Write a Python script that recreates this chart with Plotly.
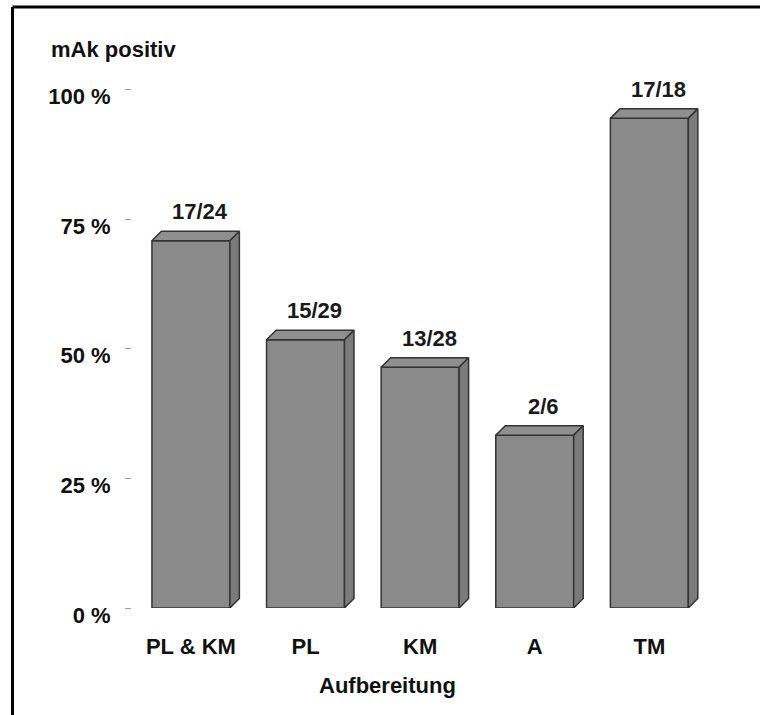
import plotly.graph_objects as go

# Anteil positiver mAk-Befunde je Aufbereitung
categories = ["PL & KM", "PL", "KM", "A", "TM"]
positives = [17, 15, 13, 2, 17]
totals = [24, 29, 28, 6, 18]
percent = [100.0 * p / n for p, n in zip(positives, totals)]
tick_vals_y = [0, 25, 50, 75, 100]
tick_text_y = ["0 %", "25 %", "50 %", "75 %", "100 %"]

# Figure geometry (pixels)
W, H = 760, 715
ML, MR, MT, MB = 132, 20, 74, 107
PW, PH = W - ML - MR, H - MT - MB
Y_MAX = 103.0
X_MIN, X_MAX = -0.514, 4.791

# 3D look: bar width and depth offsets in axis units
BAR_W = 0.68
DX = 9.5 / (PW / (X_MAX - X_MIN))
DY = 9.5 / (PH / Y_MAX)

FRONT = "#8a8a8a"
TOP = "#8f8f8f"
SIDE = "#7b7b7b"
EDGE = "#333333"
FONT = "Liberation Sans, Arial, sans-serif"
FS = 22

fig = go.Figure()

xs = list(range(len(categories)))
fig.add_trace(go.Bar(
    x=xs, y=percent, width=BAR_W,
    marker=dict(color=FRONT, line=dict(color=EDGE, width=1.5)),
    hoverinfo="skip", showlegend=False,
))

# top and side faces of each bar
for i, v in zip(xs, percent):
    xl, xr = i - BAR_W / 2, i + BAR_W / 2
    fig.add_trace(go.Scatter(
        x=[xl, xl + DX, xr + DX, xr, xl],
        y=[v, v + DY, v + DY, v, v],
        fill="toself", fillcolor=TOP, mode="lines",
        line=dict(color=EDGE, width=1.5), hoverinfo="skip", showlegend=False,
    ))
    fig.add_trace(go.Scatter(
        x=[xr, xr + DX, xr + DX, xr, xr],
        y=[0, DY, v + DY, v, 0],
        fill="toself", fillcolor=SIDE, mode="lines",
        line=dict(color=EDGE, width=1.5), hoverinfo="skip", showlegend=False,
    ))
    fig.add_annotation(
        x=i, y=v + DY, xref="x", yref="y",
        text=f"<b>{positives[i]}/{totals[i]}</b>", showarrow=False,
        xanchor="center", yanchor="bottom", xshift=9, yshift=5,
        font=dict(family=FONT, size=FS, color="#1a1a1a"),
    )


def px_x(p):
    return (p - ML) / PW


def px_y(p):
    return (MT + PH - p) / PH


fig.add_annotation(
    x=px_x(49), y=px_y(50), xref="paper", yref="paper",
    text="<b>mAk positiv</b>", showarrow=False,
    xanchor="left", yanchor="middle",
    font=dict(family=FONT, size=FS, color="#111111"),
)
fig.add_annotation(
    x=px_x(387), y=px_y(685), xref="paper", yref="paper",
    text="<b>Aufbereitung</b>", showarrow=False,
    xanchor="center", yanchor="middle",
    font=dict(family=FONT, size=FS, color="#111111"),
)

# frame lines along the top and left edge
fig.add_shape(type="line", xref="paper", yref="paper",
              x0=px_x(12.5), x1=px_x(W + 5), y0=px_y(7), y1=px_y(7),
              line=dict(color="black", width=3))
fig.add_shape(type="line", xref="paper", yref="paper",
              x0=px_x(12.5), x1=px_x(12.5), y0=px_y(7), y1=px_y(H + 5),
              line=dict(color="black", width=3))

fig.update_layout(
    width=W, height=H,
    margin=dict(l=ML, r=MR, t=MT, b=MB),
    paper_bgcolor="white", plot_bgcolor="white",
    bargap=0.3,
    font=dict(family=FONT, color="#111111"),
    xaxis=dict(
        range=[X_MIN, X_MAX], tickmode="array", tickvals=xs,
        ticktext=[f"<b>{c}</b>" for c in categories],
        showgrid=False, zeroline=False, showline=False, ticks="",
        tickfont=dict(family=FONT, size=FS, color="#111111"),
        ticklabelstandoff=23,
    ),
    yaxis=dict(
        range=[0, Y_MAX], tickmode="array", tickvals=tick_vals_y,
        ticktext=[f"<b>{t}</b>" for t in tick_text_y],
        showgrid=False, zeroline=False, showline=False,
        ticks="outside", ticklen=6, tickwidth=1, tickcolor="#9a9a9a",
        tickfont=dict(family=FONT, size=FS, color="#111111"),
        ticklabelstandoff=10, ticklabelshift=7,
    ),
)

fig.write_html("out.html")
